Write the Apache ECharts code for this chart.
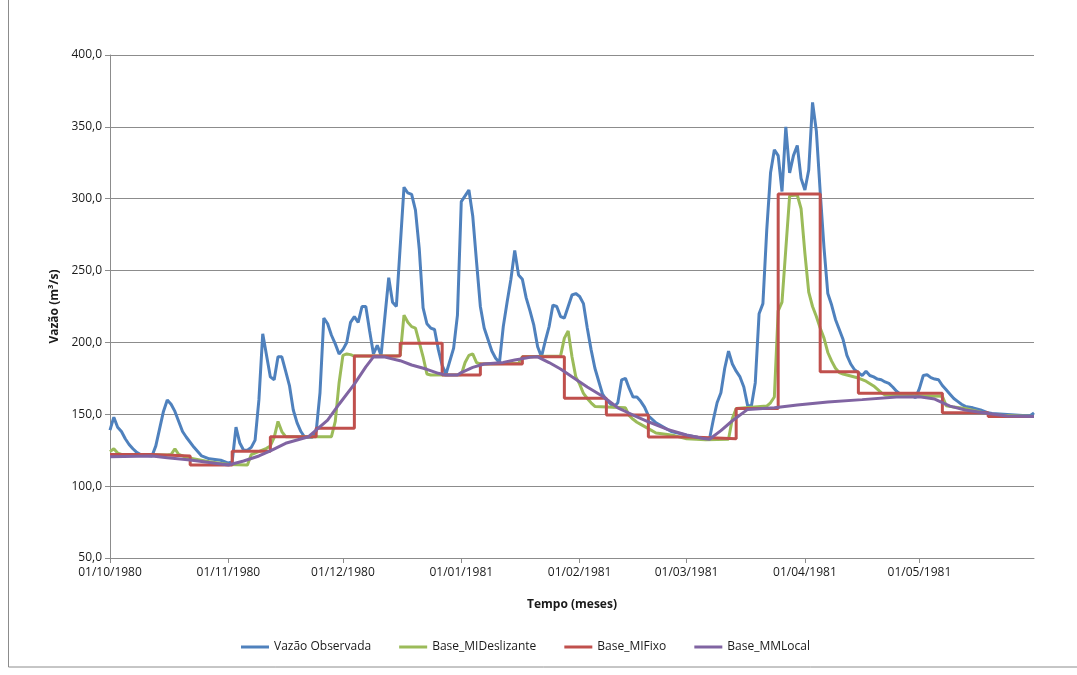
<!DOCTYPE html>
<html>
<head>
<meta charset="utf-8">
<script src="https://cdn.jsdelivr.net/npm/echarts@6/dist/echarts.min.js"></script>
<style>
html,body{margin:0;padding:0;background:#fff;}
#chart{width:1077px;height:675px;}
</style>
</head>
<body>
<div id="chart"></div>
<script>
// Daily categories: 01/10/1980 .. 31/05/1981 (index = day number)
const startYear = 1980, startMonth = 9, dayCount = 243;
const categories = [];
for (let i = 0; i < dayCount; i++) {
  const d = new Date(Date.UTC(startYear, startMonth, 1 + i));
  const dd = String(d.getUTCDate()).padStart(2, '0');
  const mm = String(d.getUTCMonth() + 1).padStart(2, '0');
  categories.push(dd + '/' + mm + '/' + d.getUTCFullYear());
}

// Tick labels shown on the time axis
const monthLabels = ['01/10/1980','01/11/1980','01/12/1980','01/01/1981','01/02/1981','01/03/1981','01/04/1981','01/05/1981'];

// Y tick values
const yTicks = [50, 100, 150, 200, 250, 300, 350, 400];

// Series: [day index (0 = 01/10/1980), value m3/s]
const vazaoObservada = [
[0,139],[1,148],[2,141],[3,138],[4,133],[5,129],[6,126],[7,123.5],[8,122],[11,121],[12,128],[13,140],[14,152],[15,160],[16,157],[17,152],[18,145],[19,138],[20,134],[22,127],[24,121],[26,119],[29,118],[31,116],[32,117],[33,141],[34,130],[35,125],[36,125],[37,127],[38,132],[39,160],[40,206],[42,176],[43,174],[44,190],[45,190],[46,180],[47,170],[48,153],[49,144],[50,138],[51,134],[53,134],[54,138],[55,165],[56,217],[57,213],[58,205],[59,199],[60,192],[61,195],[62,200],[63,214],[64,218],[65,214],[66,225],[67,225],[68,208],[69,192],[70,198],[71,191],[73,245],[74,228],[75,225],[77,308],[78,304],[79,303],[80,292],[81,265],[82,224],[83,213],[84,210],[85,209],[86,195],[87,184],[88,178],[90,196],[91,219],[92,298],[93,302],[94,306],[95,288],[96,256],[97,225],[98,210],[99,202],[100,194],[101,189],[102,186],[103,211],[104,228],[105,244],[106,264],[107,247],[108,244],[109,231],[110,222],[111,212],[112,197],[113,190],[114,201],[115,211],[116,226],[117,225],[118,218],[119,217],[120,225],[121,233],[122,234],[123,232],[124,227],[125,210],[126,195],[127,182],[128,173],[129,164],[130,160],[132,155],[133,158],[134,174],[135,175],[136,168],[137,162],[138,162],[139,159],[140,155],[141,149],[143,144],[147,138],[151,135.5],[154,134],[157,132.6],[158,146],[159,158],[160,165],[161,182],[162,194],[163,185],[164,180],[165,176],[166,169],[167,156],[168,156],[169,172],[170,220],[171,227],[172,278],[173,318],[174,334],[175,330],[176,305],[177,350],[178,318],[179,330],[180,337],[181,314],[182,306],[183,320],[184,367],[185,347],[186,305],[187,266],[188,234],[189,226],[190,216],[191,209],[192,202],[193,191],[194,185],[195,181],[196,179],[197,177],[198,180],[199,177],[200,176],[201,174.5],[202,174],[203,172.5],[204,171.5],[205,169],[206,166],[207,164],[209,164],[210,163],[211,161.6],[212,168],[213,177],[214,177.5],[215,175.5],[216,174.5],[217,174],[218,170],[219,167],[220,164],[221,161],[222,159],[223,157],[224,155.5],[226,154.5],[228,153],[229,152],[230,151],[231,150.5],[234,150],[240,149],[241,149],[242,151]
];

const baseMIDeslizante = [
[0,124],[1,126],[2,123],[3,122],[15,121.6],[16,122],[17,126],[18,122],[20,120],[26,117],[31,115],[36,114.7],[37,122],[41,126.3],[42,128],[43,134],[44,145],[45,138],[46,134.4],[58,134.4],[59,145],[60,172],[61,191],[62,192],[63,191.5],[64,190.5],[75,190.5],[76,191],[77,219],[78,214],[79,211],[80,210],[81,200],[82,190],[83,178],[84,177.3],[92,177.5],[93,186],[94,191],[95,192],[96,186],[97,185],[107,185.5],[108,190],[118,190.5],[119,203],[120,208],[121,190],[122,176],[123,171],[124,164.5],[125,161],[126,158],[127,155.5],[135,154.5],[136,149],[137,146.5],[138,144.5],[139,143],[141,140],[143,137],[146,136],[148,135],[151,133],[156,132.3],[162,132.6],[163,147],[164,154],[172,155.7],[173,158],[174,162],[175,222],[176,228],[177,265],[178,302],[180,302.6],[181,293],[182,262],[183,235],[184,225],[185,218],[186,210],[187,203],[188,193],[189,187],[190,182],[191,179],[192,178],[194,176.6],[196,175.2],[198,173],[200,169.7],[202,165],[203,163.4],[218,162.5],[219,156],[221,155],[224,154],[229,151],[231,149.5],[242,148.5]
];

// Step series: value holds from its day until the next listed day
const baseMIFixo = [
[0,122],[11,121],[21,114.7],[32,124.3],[42,134.4],[54,140.2],[64,190.5],[76,199.4],[87,177.3],[97,185],[108,190],[119,161.1],[130,149.5],[141,134.2],[152,133],[164,154.1],[175,303.3],[186,179.6],[196,164.6],[218,151.1],[230,148.4],[242,148.4]
];

const baseMMLocal = [
[0,120.5],[11,121],[15,119.8],[21,118.2],[26,116.5],[31,114.7],[35,117.5],[39,121],[42,124.6],[46,129.8],[52,134.4],[57,146],[60,157],[64,171],[67,183],[69,190],[72,189.8],[76,187.3],[79,184.3],[83,181.3],[86,178.5],[88,177.3],[91,177.3],[92,179],[95,182.6],[98,185],[103,186.1],[106,187.8],[110,189.6],[112,190],[115,186],[118,181.5],[121,176.1],[125,169],[129,162.5],[133,154.5],[137,149.5],[141,144.8],[146,139.5],[151,135.6],[155,133.3],[157,132.6],[160,138.6],[163,145.5],[167,153.4],[174,154.6],[180,156.4],[188,158.5],[197,160.2],[206,162],[212,162.2],[216,160.6],[220,155.7],[224,153],[230,150.5],[235,148.8],[242,148.4]
];

const seriesNames = ['Vazão Observada','Base_MIDeslizante','Base_MIFixo','Base_MMLocal'];
const seriesColors = ['#4F81BD','#9BBB59','#C0504D','#8064A2'];

const FONT = 'Open Sans';
const axisGray = '#8c8c8c';
const showMonth = (i, v) => monthLabels.indexOf(v) >= 0;

const chart = echarts.init(document.getElementById('chart'), null, {renderer: 'canvas'});
chart.setOption({
  animation: false,
  backgroundColor: '#ffffff',
  textStyle: {fontFamily: FONT},
  grid: {left: 110, right: 43, top: 55, bottom: 117, containLabel: false},
  legend: {
    left: 236, top: 636,
    itemWidth: 28, itemHeight: 3, itemGap: 28,
    icon: 'rect',
    data: seriesNames,
    textStyle: {fontFamily: FONT, fontSize: 12, color: '#1a1a1a'}
  },
  xAxis: {
    type: 'category',
    data: categories,
    boundaryGap: false,
    axisLine: {show: true, lineStyle: {color: axisGray, width: 1}},
    axisTick: {show: true, interval: showMonth, length: 5, lineStyle: {color: axisGray}},
    axisLabel: {interval: showMonth, margin: 9, fontSize: 12, color: '#1a1a1a', fontFamily: FONT},
    splitLine: {show: false},
    name: 'Tempo (meses)',
    nameLocation: 'middle',
    nameGap: 41,
    nameTextStyle: {fontFamily: FONT, fontSize: 12, fontWeight: 'bold', color: '#1a1a1a'}
  },
  yAxis: {
    type: 'value',
    min: yTicks[0], max: yTicks[yTicks.length - 1], interval: 50,
    axisLine: {show: true, lineStyle: {color: axisGray, width: 1}},
    axisTick: {show: true, length: 5, lineStyle: {color: axisGray}},
    axisLabel: {
      margin: 8, fontSize: 12, color: '#1a1a1a', fontFamily: FONT,
      formatter: v => v.toFixed(1).replace('.', ',')
    },
    splitLine: {show: true, lineStyle: {color: axisGray, width: 1}},
    name: 'Vazão (m³/s)',
    nameLocation: 'middle',
    nameGap: 46,
    nameTextStyle: {fontFamily: FONT, fontSize: 12, fontWeight: 'bold', color: '#1a1a1a'}
  },
  series: [
    {name: seriesNames[0], type: 'line', data: vazaoObservada, showSymbol: false, symbol: 'none',
     lineStyle: {color: seriesColors[0], width: 3}, itemStyle: {color: seriesColors[0]}},
    {name: seriesNames[1], type: 'line', data: baseMIDeslizante, showSymbol: false, symbol: 'none',
     lineStyle: {color: seriesColors[1], width: 3}, itemStyle: {color: seriesColors[1]}},
    {name: seriesNames[2], type: 'line', data: baseMIFixo, step: 'end', showSymbol: false, symbol: 'none',
     lineStyle: {color: seriesColors[2], width: 3}, itemStyle: {color: seriesColors[2]}},
    {name: seriesNames[3], type: 'line', data: baseMMLocal, showSymbol: false, symbol: 'none',
     lineStyle: {color: seriesColors[3], width: 3}, itemStyle: {color: seriesColors[3]}}
  ],
  graphic: [{
    type: 'rect', silent: true, z: -1,
    shape: {x: 8.5, y: -5, width: 1080, height: 672},
    style: {fill: null, stroke: '#8c8c8c', lineWidth: 1}
  }]
});
</script>
</body>
</html>
